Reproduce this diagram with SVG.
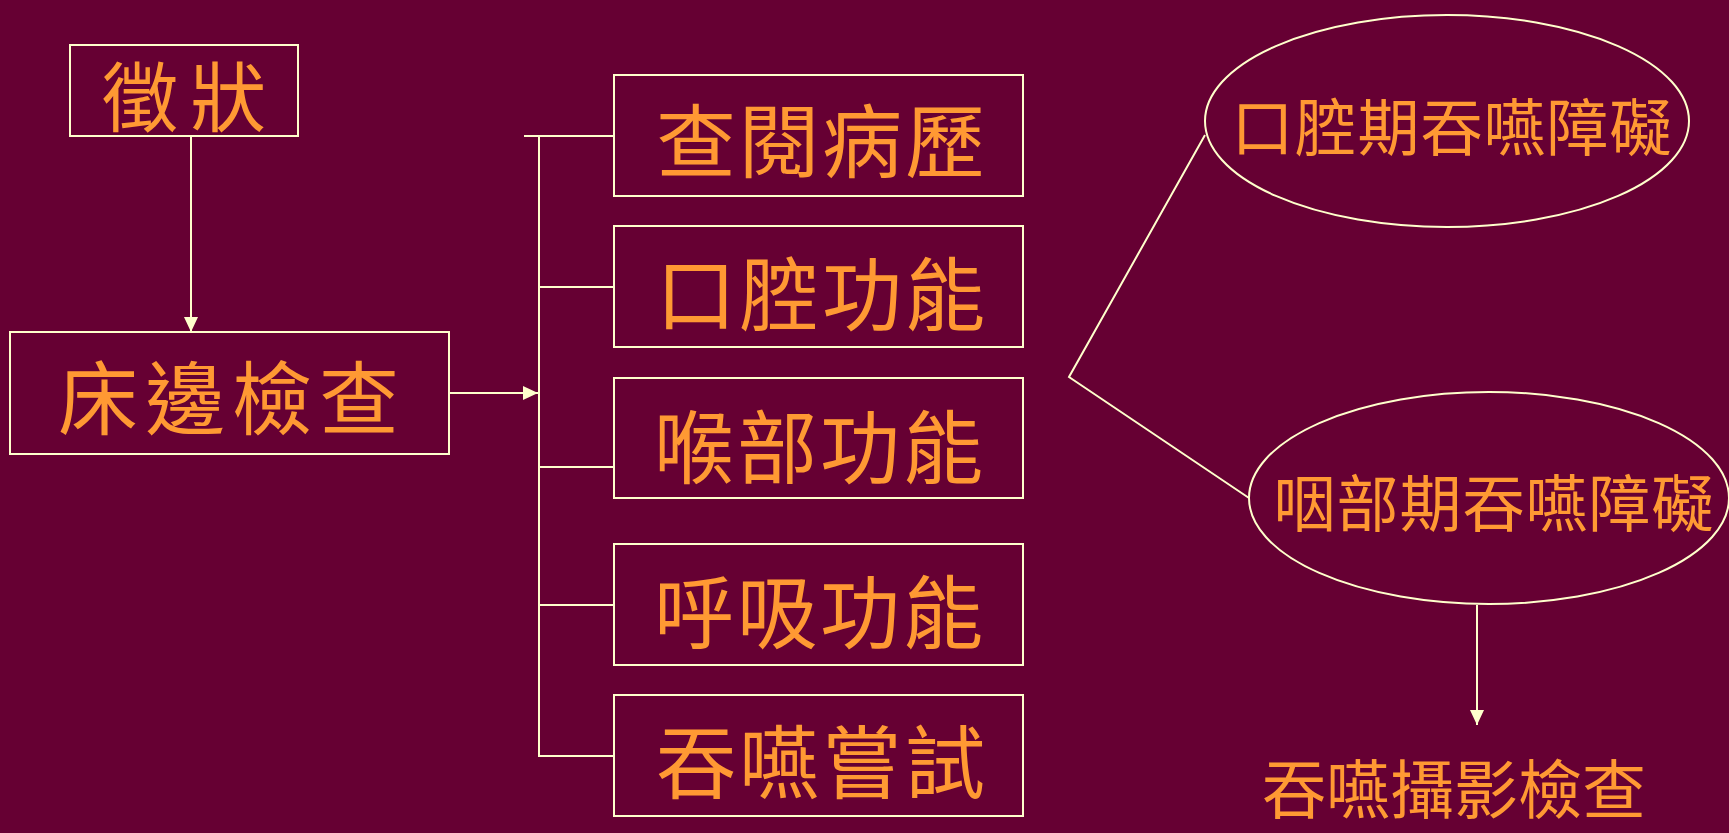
<svg xmlns="http://www.w3.org/2000/svg" width="1729" height="833" viewBox="0 0 1729 833">
<style>
.box{fill:none;stroke:#FFFFCC;stroke-width:2}
.ln{fill:none;stroke:#FFFFCC;stroke-width:2}
.t{fill:#FF9933;font-family:"Noto Sans CJK TC","Noto Sans CJK SC",sans-serif;text-anchor:middle}
.big{font-size:80px;letter-spacing:3px}
.sm{font-size:62px;letter-spacing:1px}
</style>
<defs>
<marker id="ah" markerUnits="userSpaceOnUse" markerWidth="16" markerHeight="14" refX="15" refY="7" orient="auto">
<path d="M0,0 L15,7 L0,14 Z" fill="#FFFFCC"/>
</marker>
</defs>
<rect width="1729" height="833" fill="#660033"/>
<g id="connectors">
<line class="ln" x1="191" y1="136" x2="191" y2="332" marker-end="url(#ah)"/>
<line class="ln" x1="449" y1="393" x2="538" y2="393" marker-end="url(#ah)"/>
<polyline class="ln" points="524,136 539,136 539,756 614,756"/>
<line class="ln" x1="539" y1="136" x2="614" y2="136"/>
<line class="ln" x1="539" y1="287" x2="614" y2="287"/>
<line class="ln" x1="539" y1="467" x2="614" y2="467"/>
<line class="ln" x1="539" y1="605" x2="614" y2="605"/>
<polyline class="ln" points="1205,135 1069,377 1249,498"/>
<line class="ln" x1="1477" y1="605" x2="1477" y2="725" marker-end="url(#ah)"/>
</g>
<g id="n-zhengzhuang">
<rect class="box" x="70" y="45" width="228" height="91"/>
<text class="t" x="190" y="126" style="font-size:76px;letter-spacing:12px">徵狀</text>
</g>
<g id="n-bedside">
<rect class="box" x="10" y="332" width="439" height="122"/>
<text class="t big" x="232" y="428" style="letter-spacing:7px">床邊檢查</text>
</g>
<g id="n-history">
<rect class="box" x="614" y="75" width="409" height="121"/>
<text class="t big" x="822" y="171">查閱病歷</text>
</g>
<g id="n-oral">
<rect class="box" x="614" y="226" width="409" height="121"/>
<text class="t big" x="822" y="324">口腔功能</text>
</g>
<g id="n-throat">
<rect class="box" x="614" y="378" width="409" height="120"/>
<text class="t big" x="820" y="477">喉部功能</text>
</g>
<g id="n-breath">
<rect class="box" x="614" y="544" width="409" height="121"/>
<text class="t big" x="820" y="642">呼吸功能</text>
</g>
<g id="n-trial">
<rect class="box" x="614" y="695" width="409" height="121"/>
<text class="t big" x="822" y="792">吞嚥嘗試</text>
</g>
<g id="n-oral-phase">
<ellipse class="box" cx="1447" cy="121" rx="242" ry="106"/>
<text class="t sm" x="1452" y="151">口腔期吞嚥障礙</text>
</g>
<g id="n-pharyngeal-phase">
<ellipse class="box" cx="1489" cy="498" rx="240" ry="106"/>
<text class="t sm" x="1494" y="527">咽部期吞嚥障礙</text>
</g>
<g id="n-vfss">
<text class="t" x="1454" y="813" style="font-size:64px">吞嚥攝影檢查</text>
</g>
</svg>
